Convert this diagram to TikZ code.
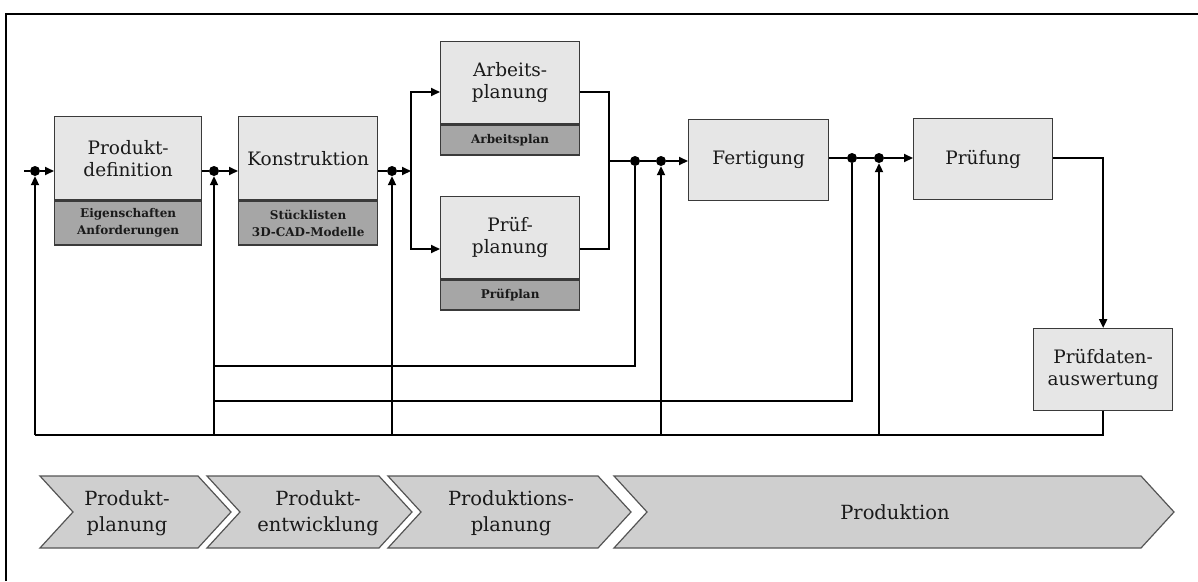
\documentclass[tikz,border=0pt]{standalone}
\usepackage{fontspec}
\setmainfont{DejaVu Serif}
\usetikzlibrary{arrows.meta}
\definecolor{boxlight}{HTML}{E6E6E6}
\definecolor{boxdark}{HTML}{A6A6A6}
\definecolor{boxline}{HTML}{3A3A3A}
\definecolor{chevfill}{HTML}{CFCFCF}
\definecolor{chevline}{HTML}{555555}
\definecolor{ink}{HTML}{1A1A1A}
\begin{document}
\begin{tikzpicture}[x=1pt,y=-1pt,
  stage/.style={draw=boxline, line width=1.3pt, fill=boxlight, inner sep=0pt,
    align=center, text=ink, font=\fontsize{18.5pt}{22pt}\selectfont},
  band/.style={draw=boxline, line width=1.3pt, fill=boxdark, inner sep=0pt,
    align=center, text=ink, font=\bfseries\fontsize{12pt}{17pt}\selectfont},
  junction/.style={circle, fill=black, inner sep=0pt, minimum size=10pt},
  flow/.style={line width=2pt, black},
  arr/.style={flow, -{Triangle[length=9pt,width=8pt]}},
  chev/.style={draw=chevline, line width=1.2pt, fill=chevfill, line join=miter},
  phase/.style={align=center, text=ink, font=\fontsize{19.5pt}{26pt}\selectfont}
]
\useasboundingbox (0,0) rectangle (1198,581);

% frame
\draw[line width=2.5pt] (6,581) -- (6,14) -- (1199,14);

% process boxes
\node[stage, anchor=north west, minimum width=147, minimum height=83] (pd) at (54,116) {Produkt-\\definition};
\node[band, anchor=north, minimum width=147, minimum height=44] (pdb) at (pd.south) {Eigenschaften\\Anforderungen};

\node[stage, anchor=north west, minimum width=139, minimum height=83] (ko) at (238,116) {Konstruktion};
\node[band, anchor=north, minimum width=139, minimum height=44] (kob) at (ko.south) {Stücklisten\\3D-CAD-Modelle};

\node[stage, anchor=north west, minimum width=139, minimum height=82] (ap) at (440,41) {Arbeits-\\planung};
\node[band, anchor=north, minimum width=139, minimum height=30] (apb) at (ap.south) {Arbeitsplan};

\node[stage, anchor=north west, minimum width=139, minimum height=82] (pp) at (440,196) {Prüf-\\planung};
\node[band, anchor=north, minimum width=139, minimum height=30] (ppb) at (pp.south) {Prüfplan};

\node[stage, anchor=north west, minimum width=140, minimum height=81] (fe) at (688,119) {Fertigung};
\node[stage, anchor=north west, minimum width=139, minimum height=81] (pr) at (913,118) {Prüfung};
\node[stage, anchor=north west, minimum width=139, minimum height=82] (pa) at (1033,328) {Prüfdaten-\\auswertung};

% junctions
\node[junction] (d1) at (35,171) {};
\node[junction] (d2) at (214,171) {};
\node[junction] (d3) at (392,171) {};
\node[junction] (d4) at (635,161) {};
\node[junction] (d5) at (661,161) {};
\node[junction] (d6) at (852,158) {};
\node[junction] (d7) at (879,158) {};

% routing points
\coordinate (in) at (24,171);
\coordinate (br) at (411,171);
\coordinate (mg) at (609,161);
\coordinate (fbA) at (214,366);
\coordinate (fbB) at (214,401);
\coordinate (fbC) at (35,435);

% forward flow
\draw[flow] (in) -- (d1);
\draw[arr] (d1) -- (d1 -| pd.west);
\draw[flow] (pd.east |- d2) -- (d2);
\draw[arr] (d2) -- (d2 -| ko.west);
\draw[flow] (ko.east |- d3) -- (d3);
\draw[arr] (d3) -- (br);
\draw[arr] (br) |- (ap.west |- 0,92);
\draw[arr] (br) |- (pp.west |- 0,249);
\draw[flow] (ap.east |- 0,92) -| (mg);
\draw[flow] (pp.east |- 0,249) -| (mg);
\draw[flow] (mg) -- (d4);
\draw[flow] (d4) -- (d5);
\draw[arr] (d5) -- (d5 -| fe.west);
\draw[flow] (fe.east |- d6) -- (d6);
\draw[flow] (d6) -- (d7);
\draw[arr] (d7) -- (d7 -| pr.west);
\draw[arr] (pr.east |- d7) -| (pa.north);

% feedback
\draw[flow] (d4) |- (fbA);
\draw[flow] (d6) |- (fbB);
\draw[flow] (pa.south) |- (fbC);
\draw[arr] (fbC) -- (d1);
\draw[arr] (d2 |- fbC) -- (d2);
\draw[arr] (d3 |- fbC) -- (d3);
\draw[arr] (d5 |- fbC) -- (d5);
\draw[arr] (d7 |- fbC) -- (d7);

% phases
\draw[chev] (40,476) -- (198,476) -- ++(33,36) -- ++(-33,36) -- (40,548) -- ++(33,-36) -- cycle;
\draw[chev] (207,476) -- (379,476) -- ++(33,36) -- ++(-33,36) -- (207,548) -- ++(33,-36) -- cycle;
\draw[chev] (388,476) -- (598,476) -- ++(33,36) -- ++(-33,36) -- (388,548) -- ++(33,-36) -- cycle;
\draw[chev] (614,476) -- (1141,476) -- ++(33,36) -- ++(-33,36) -- (614,548) -- ++(33,-36) -- cycle;
\node[phase] (ph1) at (127,513) {Produkt-\\planung};
\node[phase] (ph2) at (318,513) {Produkt-\\entwicklung};
\node[phase] (ph3) at (511,513) {Produktions-\\planung};
\node[phase] (ph4) at (895,512) {Produktion};
\end{tikzpicture}
\end{document}
